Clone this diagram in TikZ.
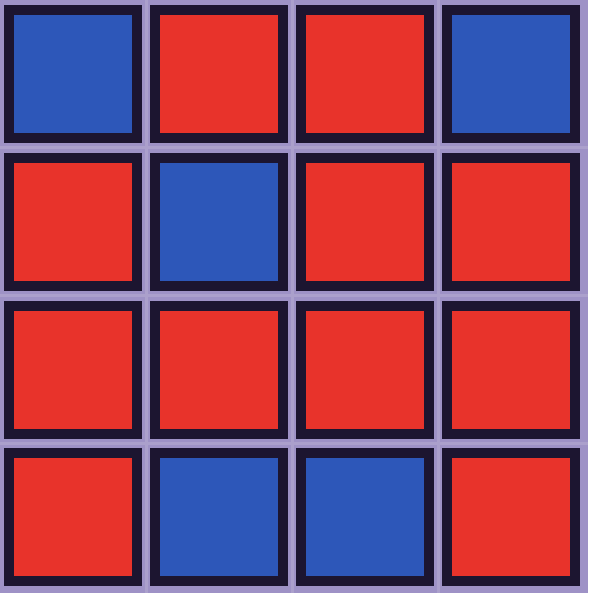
\documentclass[tikz,border=0pt]{standalone}
\usepackage{tikz}
\definecolor{lilac}{HTML}{9E92C6}
\definecolor{seam}{HTML}{ABA0CC}
\definecolor{tileedge}{HTML}{1C1530}
\definecolor{bl}{HTML}{2D57B9}
\definecolor{rd}{HTML}{E8332B}
\tikzset{
  tile/.style={draw=tileedge,line width=10pt,minimum width=128pt,minimum height=128pt,inner sep=0pt},
  seamline/.style={seam,line width=3pt}
}

\begin{document}
\begin{tikzpicture}[x=1pt,y=-1pt]
\useasboundingbox (0,0) rectangle (588,593);
\fill[lilac] (0,0) rectangle (588,593);
\foreach \xs in {146,292,438} \draw[seamline] (\xs,0) -- (\xs,593);
\foreach \ys in {148,295.5,443} \draw[seamline] (0,\ys) -- (588,\ys);
\foreach \r/\row in {0/{bl,rd,rd,bl},1/{rd,bl,rd,rd},2/{rd,rd,rd,rd},3/{rd,bl,bl,rd}}
  \foreach \c [count=\k from 0] in \row
    \node[tile,fill=\c] (tile-\r-\k) at (73+146*\k,74+147.8*\r) {};
\end{tikzpicture}
\end{document}
